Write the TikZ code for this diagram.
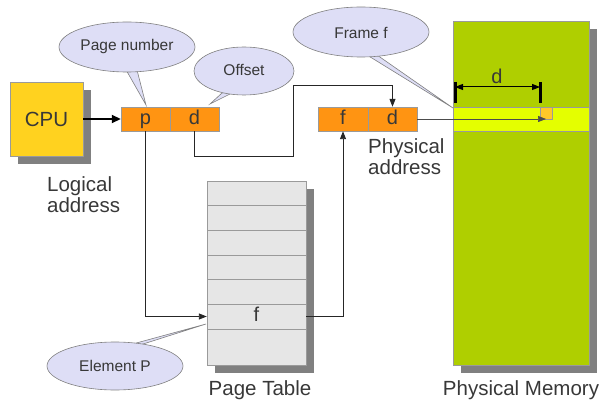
\documentclass[tikz,border=0pt]{standalone}
\usepackage{fontspec}
\setmainfont{Liberation Sans}
\usetikzlibrary{arrows.meta,shadows}
\definecolor{txt}{HTML}{383838}
\definecolor{cpuyel}{HTML}{FFD21F}
\definecolor{regorg}{HTML}{FF9412}
\definecolor{memgrn}{HTML}{AFCF00}
\definecolor{memband}{HTML}{E4FF00}
\definecolor{bytecol}{HTML}{FFC828}
\definecolor{tblfill}{HTML}{E6E6E6}
\definecolor{callfill}{HTML}{DEDEF6}
\definecolor{edgegray}{HTML}{9A9A9A}
\definecolor{shadowgray}{HTML}{808080}
\tikzset{
  every node/.style={text=txt, inner sep=0pt},
  shade box/.style={general shadow={fill=shadowgray, shadow xshift=8pt, shadow yshift=-8pt}},
  cell/.style={draw=edgegray, fill=regorg, minimum height=24pt, text height=14.5pt, text depth=4.3pt,
               font=\fontsize{20}{22}\selectfont},
  tblrow/.style={draw=edgegray, fill=tblfill, minimum width=99pt, font=\fontsize{20}{22}\selectfont},
  conn/.style={draw=black!85, line width=0.9pt, -{Triangle[length=8pt,width=6pt]}},
  callout/.style={draw=shadowgray, fill=callfill, line width=0.6pt},
  calltext/.style={font=\fontsize{15.5}{17}\selectfont},
  bigtext/.style={font=\fontsize{20.5}{21.5}\selectfont, align=left},
}
\begin{document}
\begin{tikzpicture}[x=1pt,y=-1pt]
\useasboundingbox (0,0) rectangle (602,403);

% CPU
\node[shade box, draw=edgegray, fill=cpuyel, minimum width=73pt, minimum height=74pt,
      font=\fontsize{20.5}{22}\selectfont] (cpu) at (46.5,119) {CPU};

% logical address register
\node[cell, minimum width=49pt] (p) at (145.5,119) {p};
\node[cell, minimum width=49pt] (d) at (194.5,119) {d};

% physical address register
\node[cell, minimum width=50pt] (pf) at (343,119) {f};
\node[cell, minimum width=49pt] (pd) at (392.5,119) {d};

% page table
\node[shade box, draw=edgegray, fill=tblfill, minimum width=99pt, minimum height=184pt] (tbl) at (256.5,273) {};
\foreach \yc/\h [count=\i] in {193.25/24.5, 217.75/24.5, 242.5/25, 267.25/24.5, 291.75/24.5, 316.5/25, 347/36} {
  \node[tblrow, minimum height=\h pt] (row\i) at (256.5,\yc) {};
}
\node[font=\fontsize{20}{22}\selectfont, text height=14.5pt, text depth=4.3pt] at (row6) {f};

% physical memory
\node[shade box, draw=edgegray, fill=memgrn, minimum width=136pt, minimum height=344pt] (mem) at (521,193) {};
\node[draw=edgegray, fill=memband, minimum width=136pt, minimum height=24pt] (frame) at (521,119) {};
\node[draw=edgegray, fill=bytecol, minimum width=12pt, minimum height=12pt] (byte) at (546,113) {};

% offset dimension inside the frame
\coordinate (dimL) at (455,87);
\coordinate (dimR) at (540,87);
\draw[black, line width=3pt] (455,82) -- (455,103);
\draw[black, line width=3pt] (540,82) -- (540,103);
\draw[black, line width=1pt, {Triangle[length=8pt,width=6pt]}-{Triangle[length=8pt,width=6pt]}] (dimL) -- (dimR);
\node[font=\fontsize{20}{22}\selectfont] (dlab) at (497,76) {d};

% connectors
\draw[black, line width=1.8pt, -{Triangle[length=9pt,width=8pt]}] (cpu.east) -- (p.west);
\coordinate (k1) at (194.5,156);
\coordinate (k2) at (293,156);
\coordinate (k3) at (293,85);
\draw[conn] (d.south) -- (k1) -- (k2) -- (k3) -| (pd.north);
\draw[conn] (p.south) |- (row6.west);
\draw[conn] (row6.east) -| (pf.south);
\coordinate (byteend) at (546,119);
\draw[conn, draw=black!70, line width=0.7pt] (pd.east) -- (byteend);

% callouts
\filldraw[callout] (125,68) -- (146,105) -- (137,70) -- cycle;
\filldraw[callout] (127,47) ellipse [x radius=68, y radius=25];
\node[calltext] (pnum) at (127,46) {Page number};

\filldraw[callout] (222,93) -- (210,104) -- (234,92) -- cycle;
\filldraw[callout] (244,71) ellipse [x radius=50, y radius=24];
\node[calltext] (offs) at (244,70) {Offset};

\filldraw[callout] (367,55) -- (453,108) -- (377,55) -- cycle;
\filldraw[callout] (361,32) ellipse [x radius=68, y radius=25];
\node[calltext] (framef) at (361,33) {Frame f};

\filldraw[callout] (129,345) -- (206,324) -- (140,345) -- cycle;
\filldraw[callout] (115,366) ellipse [x radius=68, y radius=24];
\node[calltext] (elem) at (115,366) {Element P};

% captions
\node[bigtext, anchor=north west] (logl) at (47,176) {Logical\\address};
\node[bigtext, anchor=north west] (phyl) at (368,138) {Physical\\address};
\node[bigtext] (ptl) at (260,390) {Page Table};
\node[bigtext] (pml) at (521,390) {Physical Memory};
\end{tikzpicture}
\end{document}
